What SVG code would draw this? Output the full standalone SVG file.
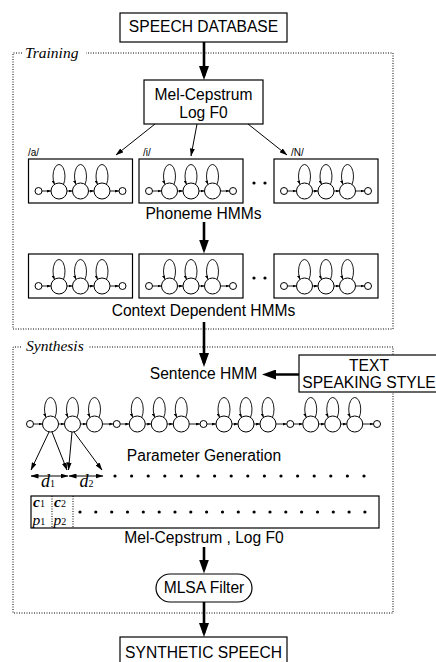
<svg xmlns="http://www.w3.org/2000/svg" xmlns:xlink="http://www.w3.org/1999/xlink" width="436" height="662" viewBox="0 0 436 662">
<style>
.box{fill:#fff;stroke:#000;stroke-width:1.2}
.lbl{font-family:"Liberation Sans",Arial,sans-serif;font-size:15.6px;text-anchor:middle;fill:#000}
.ph{font-family:"Liberation Sans",Arial,sans-serif;font-size:10px;fill:#000}
.sec{font-family:"Liberation Serif","Times New Roman",serif;font-style:italic;font-size:15.5px;fill:#000}
.math{font-family:"Liberation Serif","Times New Roman",serif;font-size:18px;fill:#000}
.cp{font-family:"Liberation Serif","Times New Roman",serif;font-size:15.5px;fill:#000}
.dash{fill:none;stroke:#000;stroke-width:1;stroke-dasharray:1 1.5}
.thick{stroke:#000;stroke-width:2.6;fill:none;marker-end:url(#ah)}
.thin{stroke:#000;stroke-width:1;fill:none;marker-end:url(#as)}
.st{fill:#fff;stroke:#000;stroke-width:1}
.tr{stroke:#000;stroke-width:0.9;fill:none;marker-end:url(#at)}
.dot{fill:#000}
</style>
<defs>
<marker id="ah" viewBox="0 0 14 10" markerWidth="14" markerHeight="10" refX="10" refY="5" orient="auto" markerUnits="userSpaceOnUse"><path d="M0,0 L14,5 L0,10 z" fill="#000"/></marker>
<marker id="as" viewBox="0 0 8 5" markerWidth="8" markerHeight="5" refX="7.5" refY="2.5" orient="auto-start-reverse" markerUnits="userSpaceOnUse"><path d="M0,0 L8,2.5 L0,5 z" fill="#000"/></marker>
<marker id="at" viewBox="0 0 4 3" markerWidth="4" markerHeight="3" refX="4" refY="1.5" orient="auto" markerUnits="userSpaceOnUse"><path d="M0,0 L4,1.5 L0,3 z" fill="#000"/></marker>
<g id="big">
<path class="tr" d="M4.5,-6.6 A6,12 0 1 0 -4.5,-6.6"/>
<circle class="st" cx="0" cy="0" r="8"/>
</g>
<g id="hmm">
<rect class="box" x="-52" y="0" width="104" height="44"/>
<circle class="st" cx="-42" cy="32" r="3.5"/>
<circle class="st" cx="42" cy="32" r="3.5"/>
<use xlink:href="#big" x="-21.5" y="32"/>
<use xlink:href="#big" x="0" y="32"/>
<use xlink:href="#big" x="21.5" y="32"/>
<line class="tr" x1="-38.5" y1="32" x2="-29.5" y2="32"/>
<line class="tr" x1="-13.5" y1="32" x2="-8" y2="32"/>
<line class="tr" x1="8" y1="32" x2="13.5" y2="32"/>
<line class="tr" x1="29.5" y1="32" x2="38.5" y2="32"/>
</g>
</defs>

<g id="training">
<path class="dash" d="M22,53 H13 V329 H393 V53 H86"/>
<text class="sec" x="25" y="57.5">Training</text>
</g>
<g id="synthesis">
<path class="dash" d="M21,347 H13 V613 H393 V347 H89"/>
<text class="sec" x="26" y="351">Synthesis</text>
</g>

<g id="speech-db">
<rect class="box" x="120" y="13" width="167" height="29"/>
<text class="lbl" x="203.5" y="32.3">SPEECH DATABASE</text>
</g>

<g id="features">
<rect class="box" x="144" y="80" width="119" height="44"/>
<text class="lbl" x="203.5" y="99.5">Mel-Cepstrum</text>
<text class="lbl" x="203.5" y="117.8">Log F0</text>
</g>

<g id="phoneme-hmms">
<text class="ph" x="28" y="155.5">/a/</text>
<text class="ph" x="143" y="155.5">/i/</text>
<text class="ph" x="291" y="155.5">/N/</text>
<use xlink:href="#hmm" x="80.5" y="159"/>
<use xlink:href="#hmm" x="191" y="159"/>
<use xlink:href="#hmm" x="326" y="159"/>
<circle class="dot" cx="254" cy="183" r="1.6"/>
<circle class="dot" cx="265" cy="183" r="1.6"/>
<text class="lbl" x="203.5" y="219">Phoneme HMMs</text>
</g>

<g id="context-hmms">
<use xlink:href="#hmm" x="80.5" y="254"/>
<use xlink:href="#hmm" x="191" y="254"/>
<use xlink:href="#hmm" x="326" y="254"/>
<circle class="dot" cx="254" cy="278" r="1.6"/>
<circle class="dot" cx="265" cy="278" r="1.6"/>
<text class="lbl" x="203.5" y="316">Context Dependent HMMs</text>
</g>

<g id="sentence-hmm">
<text class="lbl" x="203.5" y="379">Sentence HMM</text>
</g>

<g id="text-style">
<rect class="box" x="299" y="355" width="142" height="37"/>
<text class="lbl" x="369" y="371">TEXT</text>
<text class="lbl" x="369" y="387.7">SPEAKING STYLE</text>
</g>

<g id="state-chain">
<circle class="st" cx="30" cy="424" r="3.5"/>
<use xlink:href="#big" x="50.5" y="424"/>
<use xlink:href="#big" x="72.5" y="424"/>
<use xlink:href="#big" x="94.5" y="424"/>
<circle class="st" cx="116.75" cy="424" r="3.5"/>
<use xlink:href="#big" x="137.25" y="424"/>
<use xlink:href="#big" x="159.25" y="424"/>
<use xlink:href="#big" x="181.25" y="424"/>
<circle class="st" cx="203.5" cy="424" r="3.5"/>
<use xlink:href="#big" x="224" y="424"/>
<use xlink:href="#big" x="246" y="424"/>
<use xlink:href="#big" x="268" y="424"/>
<circle class="st" cx="290.25" cy="424" r="3.5"/>
<use xlink:href="#big" x="310.75" y="424"/>
<use xlink:href="#big" x="332.75" y="424"/>
<use xlink:href="#big" x="354.75" y="424"/>
<circle class="st" cx="377" cy="424" r="3.5"/>
<line class="tr" x1="33.5" y1="424" x2="42.5" y2="424"/>
<line class="tr" x1="58.5" y1="424" x2="64.5" y2="424"/>
<line class="tr" x1="80.5" y1="424" x2="86.5" y2="424"/>
<line class="tr" x1="102.5" y1="424" x2="113.25" y2="424"/>
<line class="tr" x1="120.25" y1="424" x2="129.25" y2="424"/>
<line class="tr" x1="145.25" y1="424" x2="151.25" y2="424"/>
<line class="tr" x1="167.25" y1="424" x2="173.25" y2="424"/>
<line class="tr" x1="189.25" y1="424" x2="200" y2="424"/>
<line class="tr" x1="207" y1="424" x2="216" y2="424"/>
<line class="tr" x1="232" y1="424" x2="238" y2="424"/>
<line class="tr" x1="254" y1="424" x2="260" y2="424"/>
<line class="tr" x1="276" y1="424" x2="286.75" y2="424"/>
<line class="tr" x1="293.75" y1="424" x2="302.75" y2="424"/>
<line class="tr" x1="318.75" y1="424" x2="324.75" y2="424"/>
<line class="tr" x1="340.75" y1="424" x2="346.75" y2="424"/>
<line class="tr" x1="362.75" y1="424" x2="373.5" y2="424"/>
</g>

<g id="parameter-generation">
<text class="lbl" x="204" y="460.7">Parameter Generation</text>
<text class="math" x="41" y="487" font-style="italic">d<tspan font-size="10px" font-style="normal">1</tspan></text>
<text class="math" x="79.5" y="487" font-style="italic">d<tspan font-size="10px" font-style="normal">2</tspan></text>
<g class="dot">
<circle cx="115" cy="476" r="1.6"/><circle cx="131.6" cy="476" r="1.6"/><circle cx="148.2" cy="476" r="1.6"/><circle cx="164.8" cy="476" r="1.6"/>
<circle cx="181.4" cy="476" r="1.6"/><circle cx="198" cy="476" r="1.6"/><circle cx="214.6" cy="476" r="1.6"/><circle cx="231.2" cy="476" r="1.6"/>
<circle cx="247.8" cy="476" r="1.6"/><circle cx="264.4" cy="476" r="1.6"/><circle cx="281" cy="476" r="1.6"/><circle cx="297.6" cy="476" r="1.6"/>
<circle cx="314.2" cy="476" r="1.6"/><circle cx="330.8" cy="476" r="1.6"/><circle cx="347.4" cy="476" r="1.6"/><circle cx="364" cy="476" r="1.6"/>
</g>
</g>

<g id="param-sequence">
<rect class="box" x="31" y="496" width="348" height="32"/>
<line class="dash" x1="52" y1="496" x2="52" y2="528"/>
<line class="dash" x1="73" y1="496" x2="73" y2="528"/>
<text class="cp" x="33" y="507.3" font-style="italic" font-weight="bold">c<tspan font-size="10px" font-style="normal" font-weight="normal">1</tspan></text>
<text class="cp" x="54" y="507.3" font-style="italic" font-weight="bold">c<tspan font-size="10px" font-style="normal" font-weight="normal">2</tspan></text>
<text class="cp" x="32.5" y="524.6" font-style="italic">p<tspan font-size="10px" font-style="normal">1</tspan></text>
<text class="cp" x="53.5" y="524.6" font-style="italic">p<tspan font-size="10px" font-style="normal">2</tspan></text>
<g class="dot">
<circle cx="80" cy="512" r="1.6"/><circle cx="95.8" cy="512" r="1.6"/><circle cx="111.7" cy="512" r="1.6"/><circle cx="127.5" cy="512" r="1.6"/>
<circle cx="143.3" cy="512" r="1.6"/><circle cx="159.2" cy="512" r="1.6"/><circle cx="175" cy="512" r="1.6"/><circle cx="190.8" cy="512" r="1.6"/>
<circle cx="206.6" cy="512" r="1.6"/><circle cx="222.5" cy="512" r="1.6"/><circle cx="238.3" cy="512" r="1.6"/><circle cx="254.1" cy="512" r="1.6"/>
<circle cx="270" cy="512" r="1.6"/><circle cx="285.8" cy="512" r="1.6"/><circle cx="301.6" cy="512" r="1.6"/><circle cx="317.5" cy="512" r="1.6"/>
<circle cx="333.3" cy="512" r="1.6"/><circle cx="349.1" cy="512" r="1.6"/><circle cx="364.9" cy="512" r="1.6"/>
</g>
<text class="lbl" x="204" y="543.3">Mel-Cepstrum , Log F0</text>
</g>

<g id="mlsa-filter">
<rect class="box" x="156" y="574" width="96" height="28" rx="14" ry="14"/>
<text class="lbl" x="204" y="592.7">MLSA Filter</text>
</g>

<g id="synthetic-speech">
<rect class="box" x="120" y="637" width="167" height="30"/>
<text class="lbl" x="203.5" y="658">SYNTHETIC SPEECH</text>
</g>

<g id="connectors">
<line class="thick" x1="204" y1="42" x2="204" y2="76"/>
<line class="thin" x1="155" y1="124" x2="116" y2="155"/>
<line class="thin" x1="197" y1="124" x2="191" y2="156"/>
<line class="thin" x1="248" y1="124" x2="287" y2="155"/>
<line class="thick" x1="204" y1="222" x2="204" y2="249.5"/>
<line class="thick" x1="204" y1="322" x2="204" y2="363"/>
<line class="thick" x1="299" y1="374.5" x2="266" y2="374.5"/>
<line class="thin" x1="49" y1="432" x2="31" y2="470"/>
<line class="thin" x1="52" y1="432" x2="67" y2="470"/>
<line class="thin" x1="72" y1="432" x2="68.5" y2="470"/>
<line class="thin" x1="74" y1="432" x2="102" y2="470"/>
<line class="thin" x1="31" y1="476" x2="68" y2="476" marker-start="url(#as)"/>
<line class="thin" x1="69" y1="476" x2="103" y2="476" marker-start="url(#as)"/>
<line class="thick" x1="204" y1="547" x2="204" y2="569.5"/>
<line class="thick" x1="204" y1="602" x2="204" y2="633"/>
</g>
</svg>
